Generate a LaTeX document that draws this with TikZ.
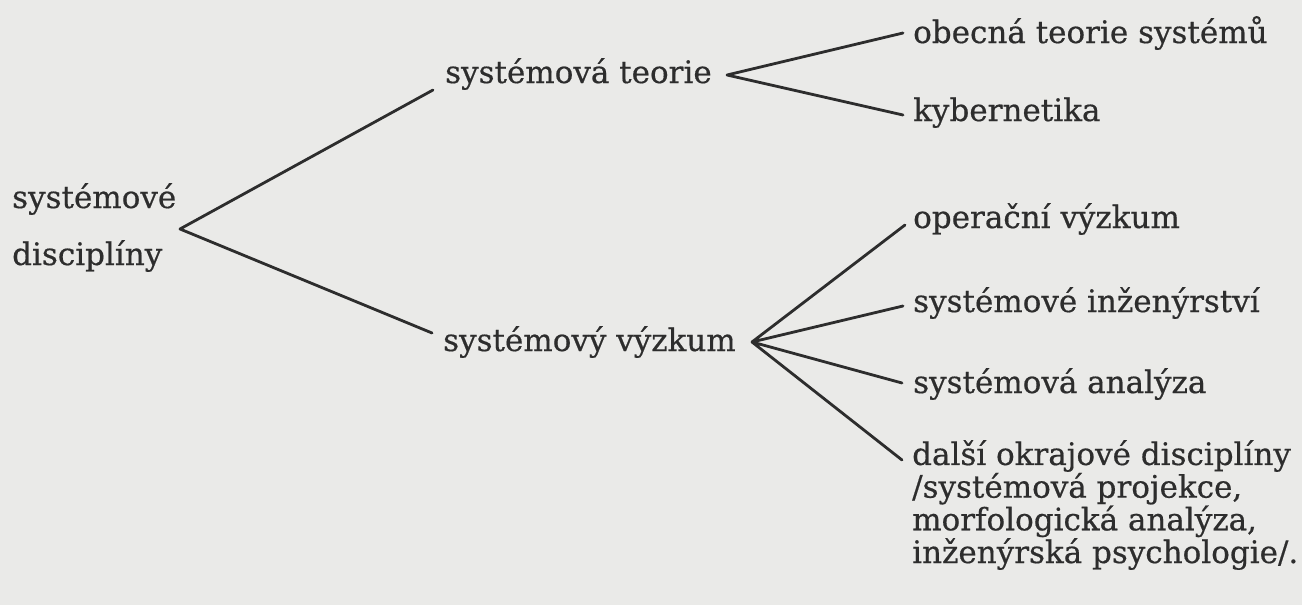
\documentclass[tikz,border=0pt]{standalone}
\usepackage{fontspec}
\setmainfont[FakeBold=0.5]{DejaVu Serif}
\definecolor{paper}{RGB}{234,234,232}
\definecolor{ink}{RGB}{45,45,45}
\tikzset{
  lbl/.style={anchor=base west, inner sep=0pt, text=ink,
    font=\fontsize{31}{31}\selectfont},
  branch/.style={draw=ink, line width=2.8pt, line cap=round, line join=round}
}
\begin{document}
\begin{tikzpicture}[x=1pt, y=-1pt]
  % page
  \fill[paper] (0,0) rectangle (1302,605);
  \useasboundingbox (0,0) rectangle (1302,605);

  % labels
  \node[lbl] (rootA) at (12,208) {systémové};
  \node[lbl] (rootB) at (12,265) {disciplíny};
  \node[lbl] (teorie) at (445,83) {systémová teorie};
  \node[lbl] (vyzkum) at (443,351) {systémový výzkum};
  \node[lbl] (obecna) at (913,43) {obecná teorie systémů};
  \node[lbl] (kyber) at (913,121) {kybernetika};
  \node[lbl] (operacni) at (913,228) {operační výzkum};
  \node[lbl] (inzen) at (913,312) {systémové inženýrství};
  \node[lbl] (analyza) at (913,393) {systémová analýza};
  % multi-line label: base anchor sits on its last line
  \node[lbl, align=left] (dalsi) at (912,563) {další okrajové disciplíny\\
    /systémová projekce,\\ morfologická analýza,\\ inženýrská psychologie/.};

  % branching points and line ends
  \coordinate (vRoot) at (180,229);
  \coordinate (vTeorie) at (727,75);
  \coordinate (vVyzkum) at (752,342);
  \coordinate (eTeorie) at (433,90);
  \coordinate (eVyzkum) at (432,333);
  \coordinate (eObecna) at (903,33);
  \coordinate (eKyber) at (903,115);
  \coordinate (eOperacni) at (905,225);
  \coordinate (eInzen) at (903,306);
  \coordinate (eAnalyza) at (902,383);
  \coordinate (eDalsi) at (902,460);

  % tree
  \draw[branch] (eTeorie) -- (vRoot) -- (eVyzkum);
  \draw[branch] (eObecna) -- (vTeorie) -- (eKyber);
  \draw[branch] (eOperacni) -- (vVyzkum) -- (eInzen);
  \draw[branch] (eAnalyza) -- (vVyzkum) -- (eDalsi);
\end{tikzpicture}
\end{document}
